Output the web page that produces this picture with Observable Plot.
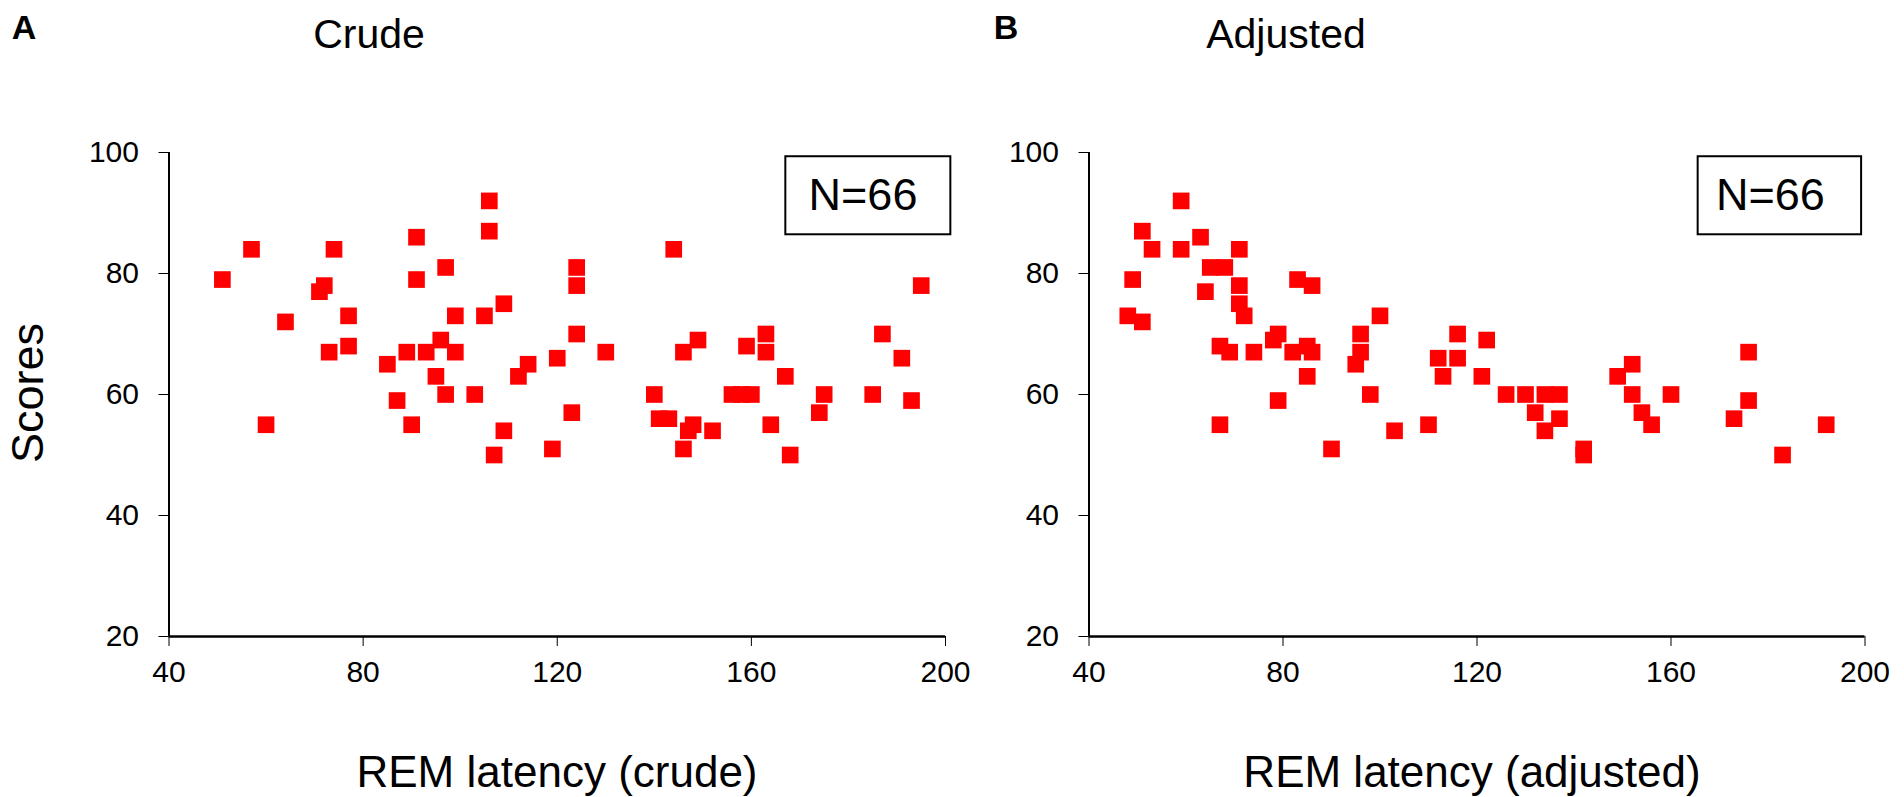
<!DOCTYPE html>
<html><head><meta charset="utf-8">
<script src="https://cdn.jsdelivr.net/npm/d3@7"></script>
<script src="https://cdn.jsdelivr.net/npm/@observablehq/plot@0.6"></script>
<style>
body{margin:0;background:#fff;font-family:"Liberation Sans",Arial,sans-serif;}
#wrap{position:relative;width:1904px;height:797px;overflow:hidden;background:#fff;}
.t{position:absolute;color:#000;white-space:nowrap;line-height:1;transform:translate(-50%,-50%);}
.p{position:absolute;top:0;}
</style></head><body><div id="wrap"></div>
<script>
// ---- data ----
const crudeX = [51,57,60,64,71,72,73,74,77,77,85,87,89,90,91,91,93,95,96,97,97,99,99,103,105,106,106,107,109,109,112,114,119,120,123,124,124,124,130,140,141,143,144,146,146,147,148,149,152,156,158,160,159,163,163,164,167,168,174,175,185,187,191,193,195];
const crudeY = [79,84,55,72,77,78,67,84,73,68,65,59,67,55,86,79,67,63,69,81,60,73,67,60,73,92,87,50,75,54,63,65,51,66,57,81,78,70,67,60,56,56,84,67,51,54,55,69,54,60,60,60,68,70,67,55,63,50,57,60,60,70,66,59,78];
const adjX = [48,49,51,51,53,59,59,63,64,65,68,67,67,69,71,71,71,72,74,78,79,79,82,83,85,86,85,86,90,96,96,95,98,100,103,110,112,113,116,116,121,122,126,130,132,134,137,137,134,142,142,149,152,152,154,156,160,173,176,176,183,192];
const adjY = [73,79,87,72,84,92,84,86,77,81,81,68,55,67,84,78,75,73,67,69,70,59,67,79,68,67,63,78,51,70,67,65,60,73,54,55,66,63,70,66,63,69,60,60,57,60,60,56,54,51,50,63,65,60,57,55,60,56,67,59,50,55];
const xTicks = [40,80,120,160,200];
const yTicks = [20,40,60,80,100];
const panelLetters = ["A","B"];
const panelTitles = ["Crude","Adjusted"];
const xTitles = ["REM latency (crude)","REM latency (adjusted)"];
const yTitle = "Scores";
const nLabels = ["N=66","N=66"];

// ---- layout (annotation boxes in data units) ----
const boxA = {x1:167.1, x2:201.1, y1:86.4, y2:99.3, tx:183.0, ty:92.9};
const boxB = {x1:165.6, x2:199.3, y1:86.4, y2:99.3, tx:180.5, ty:92.9};

const font = "Liberation Sans, Arial, sans-serif";

function panel(xs, ys, box, label, width, ml, mr) {
  const data = xs.map((x, i) => ({x, y: ys[i]}));
  return Plot.plot({
    width, height: 797,
    marginLeft: ml, marginRight: mr, marginTop: 152, marginBottom: 161,
    x: {domain: [40, 200], ticks: xTicks, tickSize: 10, tickPadding: 14, label: null, tickFormat: d => String(d)},
    y: {domain: [20, 100], ticks: yTicks, tickSize: 10, tickPadding: 20, label: null, tickFormat: d => String(d)},
    style: {fontSize: "30px", fontFamily: font, color: "#000", background: "transparent", overflow: "visible"},
    marks: [
      Plot.ruleX([40], {stroke: "#000", strokeWidth: 2}),
      Plot.ruleY([20], {stroke: "#000", strokeWidth: 2.5}),
      Plot.rect([box], {x1: "x1", x2: "x2", y1: "y1", y2: "y2", fill: "#fff", stroke: "#000", strokeWidth: 2}),
      Plot.text([box], {x: "tx", y: "ty", text: () => label, fontSize: 45, fill: "#000"}),
      Plot.dot(data, {x: "x", y: "y", symbol: "square", r: 9.4, fill: "#ff0000", stroke: "none"})
    ]
  });
}

const wrap = document.getElementById("wrap");
const pA = panel(crudeX, crudeY, boxA, nLabels[0], 960, 168.5, 15);
pA.classList.add("p"); pA.style.left = "0px";
const pB = panel(adjX, adjY, boxB, nLabels[1], 944, 128.5, 39.5);
pB.classList.add("p"); pB.style.left = "960px";
wrap.appendChild(pB);
wrap.appendChild(pA);

function addText(txt, x, y, size, bold, rot) {
  const d = document.createElement("div");
  d.className = "t";
  d.textContent = txt;
  d.style.left = x + "px";
  d.style.top = y + "px";
  d.style.fontSize = size + "px";
  if (bold) d.style.fontWeight = "bold";
  if (rot) d.style.transform = "translate(-50%,-50%) rotate(-90deg)";
  wrap.appendChild(d);
}
addText(panelLetters[0], 24, 27, 34, true);
addText(panelTitles[0], 369, 34, 41, false);
addText(panelLetters[1], 1006, 27, 34, true);
addText(panelTitles[1], 1286, 34, 41, false);
addText(yTitle, 27, 393, 45, false, true);
addText(xTitles[0], 557, 772, 44, false);
addText(xTitles[1], 1472, 772, 44, false);
</script></body></html>
